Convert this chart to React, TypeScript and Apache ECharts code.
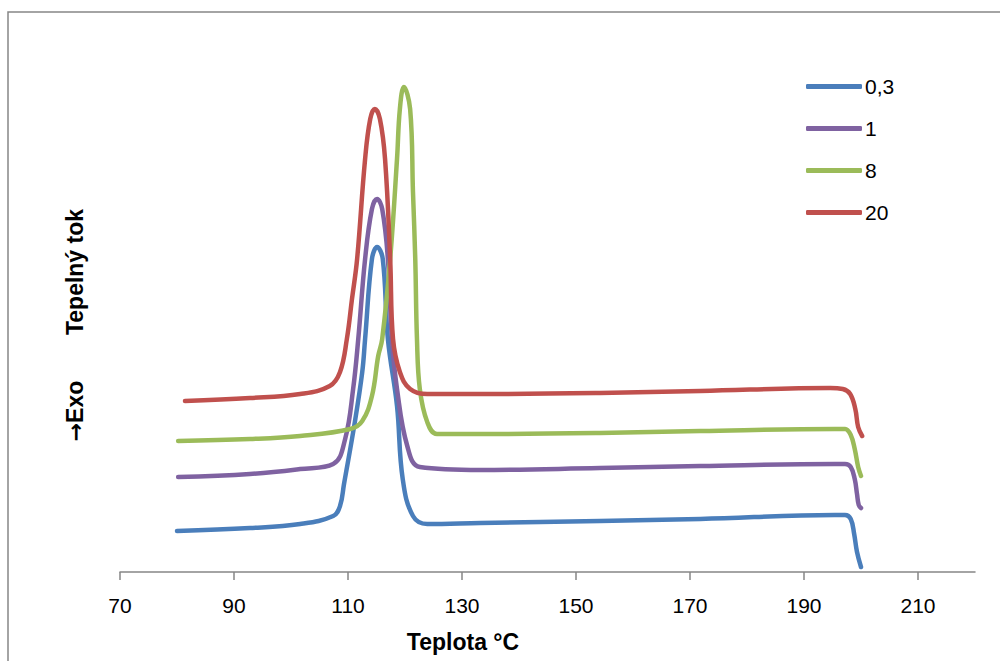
import React, { useEffect, useRef } from "react";
import * as echarts from "echarts";

const seriesNames = ["0,3", "1", "8", "20"];
const seriesColors = ["#4A7EBB", "#7F62A1", "#9BBB59", "#C0504D"];

const tickLabels = [70, 90, 110, 130, 150, 170, 190, 210];

const t03 = [80, 92.8, 101.6, 107.4, 108.6, 109.3, 111.2, 112.5, 113, 114.2, 115.1, 116.1, 117, 118.6, 119.6, 121.4, 123.9, 133.2, 154.2, 171.8, 195.4, 197.2, 198.2, 198.8, 199.3, 200];
const v03 = [8.2, 8.8, 9.6, 11.2, 13.2, 17.6, 30, 40, 46.6, 62.6, 65, 62.6, 46.6, 33.2, 18.6, 11.2, 9.6, 9.8, 10.2, 10.6, 11.4, 11.4, 10.6, 7.6, 4, 1];

const t1 = [80.2, 92.8, 101.6, 107.4, 109.5, 110.9, 111.8, 113, 114.2, 115.1, 116, 117, 117.7, 118.6, 120.4, 122.6, 133.2, 154.2, 171.8, 195.4, 197.2, 198.2, 198.9, 199.3, 199.6, 200];
const v1 = [19, 19.6, 20.6, 21.6, 26.6, 36.6, 46.6, 62.6, 72.6, 74.6, 72.6, 62.6, 46.6, 36.6, 25.2, 21, 20.4, 20.8, 21.2, 21.6, 21.6, 21, 18.6, 15.6, 13.4, 12.8];

const t8 = [80.2, 92.8, 101.6, 110.4, 112.5, 114.2, 115.3, 116, 117.4, 118.6, 119.1, 119.8, 120.9, 121.4, 121.8, 122.1, 122.6, 123.9, 125.6, 133.2, 154.2, 171.8, 195.4, 197.2, 198.2, 198.9, 199.5, 200];
const v8 = [26.2, 26.6, 27.2, 28.6, 30.2, 35.2, 43.2, 46.6, 62.6, 82.6, 92.6, 97, 92.6, 76, 62.6, 46.6, 36.6, 30, 27.6, 27.6, 27.8, 28.2, 28.6, 28.6, 27.4, 24.6, 21, 19.2];

const t20 = [81.4, 92.8, 101.6, 106.8, 108.6, 109.8, 110.7, 111.6, 113, 113.9, 114.7, 115.6, 116.5, 117.4, 117.9, 119.1, 120.9, 123.9, 133.2, 154.2, 171.8, 194.6, 196.8, 198.1, 199, 199.5, 200.2];
const v20 = [34.2, 34.8, 35.6, 37.2, 40, 46.6, 54.6, 62.6, 82.6, 90.6, 92.6, 90.6, 82.6, 62.6, 46.6, 40, 36.6, 35.6, 35.6, 35.8, 36.2, 36.8, 36.6, 35.6, 32.6, 29, 27.2];

const temps = [t03, t1, t8, t20];
const vals = [v03, v1, v8, v20];

export default function App() {
  const ref = useRef<HTMLDivElement>(null);
  useEffect(() => {
    if (!ref.current) return;
    const chart = echarts.init(ref.current, null, { renderer: "svg" });
    const font = "'Liberation Sans', Arial, sans-serif";
    chart.setOption({
      animation: false,
      backgroundColor: "#ffffff",
      grid: { left: 120, right: 25, top: 72, bottom: 89, containLabel: false },
      xAxis: {
        type: "value",
        min: 70,
        max: 220,
        interval: 20,
        splitLine: { show: false },
        axisLine: { show: true, lineStyle: { color: "#868686", width: 1.5 } },
        axisTick: { show: true, length: 8, lineStyle: { color: "#868686", width: 1.5 }, customValues: tickLabels },
        axisLabel: { customValues: tickLabels, margin: 23, fontSize: 21, color: "#000", fontFamily: font },
      },
      yAxis: {
        type: "value",
        min: 0,
        max: 100,
        show: false,
        splitLine: { show: false },
      },
      legend: {
        orient: "vertical",
        left: 801,
        top: 71,
        itemWidth: 56,
        itemHeight: 5,
        itemGap: 21,
        icon: "roundRect",
        textStyle: { fontSize: 21, color: "#000", fontFamily: font, padding: [0, 0, 0, -2] },
        data: seriesNames,
      },
      graphic: [
        {
          type: "rect",
          shape: { x: 8, y: 12, width: 1010, height: 700 },
          style: { fill: "none", stroke: "#868686", lineWidth: 1.5 },
          silent: true,
        },
        {
          type: "text",
          x: 463,
          y: 642,
          style: { text: "Teplota °C", font: `bold 23px ${font}`, fill: "#000", textAlign: "center", textVerticalAlign: "middle" },
        },
        {
          type: "text",
          x: 75,
          y: 272,
          rotation: Math.PI / 2,
          style: { text: "Tepelný tok", font: `bold 23px ${font}`, fill: "#000", textAlign: "center", textVerticalAlign: "middle" },
        },
        {
          type: "text",
          x: 75,
          y: 411,
          rotation: Math.PI / 2,
          style: {
            text: "{a|→}{b|Exo}",
            textAlign: "center",
            textVerticalAlign: "middle",
            rich: {
              a: { fontFamily: "'DejaVu Sans'", fontWeight: "bold", fontSize: 22, fill: "#000", color: "#000" },
              b: { fontFamily: font, fontWeight: "bold", fontSize: 23, fill: "#000", color: "#000" },
            },
          },
        },
      ],
      series: seriesNames.map((name, i) => ({
        name,
        type: "line",
        data: temps[i].map((t, j) => [t, vals[i][j]]),
        showSymbol: false,
        symbol: "none",
        smooth: 0.4,
        color: seriesColors[i],
        lineStyle: { width: 4.5, color: seriesColors[i], cap: "round", join: "round" },
      })),
    });
    return () => chart.dispose();
  }, []);
  return <div ref={ref} style={{ position: "fixed", left: 0, top: 0, width: 1000, height: 661 }} />;
}
